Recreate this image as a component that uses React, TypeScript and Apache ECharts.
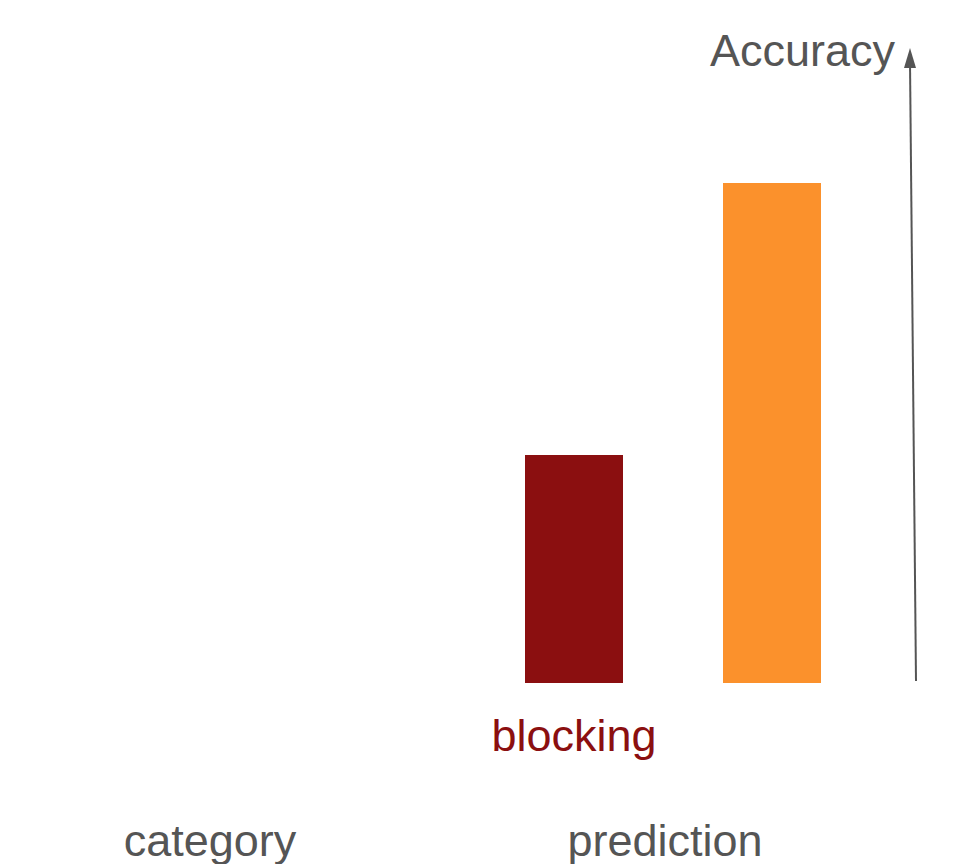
import { useEffect, useRef } from "react";
import * as echarts from "echarts";

const categories = ["blocking", "control"];
const accuracy = [36, 79];
const barColors = ["#8B0F10", "#FB912C"];
const labelColors = ["#8B0F10", "#E8903A"];
const groupLabels = ["category", "prediction"];

const App = () => {
  const chartRef = useRef<HTMLDivElement>(null);

  useEffect(() => {
    if (!chartRef.current) return;
    const chart = echarts.init(chartRef.current, undefined, { renderer: "svg" });
    const font = "'Liberation Sans', Arial, sans-serif";

    chart.setOption({
      animation: false,
      backgroundColor: "#ffffff",
      grid: { left: 475, right: 85, top: 50, bottom: 181 },
      xAxis: {
        type: "category",
        data: categories,
        axisLine: { show: false },
        axisTick: { show: false },
        axisLabel: {
          margin: 30,
          fontSize: 45,
          fontFamily: font,
          color: (_v: string, i: number) => labelColors[i],
        },
      },
      yAxis: { type: "value", min: 0, max: 100, show: false },
      series: [
        {
          type: "bar",
          barWidth: 98,
          data: accuracy.map((v, i) => ({ value: v, itemStyle: { color: barColors[i] } })),
        },
      ],
      graphic: [
        { type: "line", shape: { x1: 916, y1: 681, x2: 910, y2: 62 }, style: { stroke: "#555", lineWidth: 2 } },
        { type: "polygon", shape: { points: [[910, 48], [904, 68], [916, 68]] }, style: { fill: "#555" } },
        {
          type: "text", x: 895, y: 50,
          style: { text: "Accuracy", fontSize: 45, fontFamily: font, fill: "#555", align: "right", verticalAlign: "middle" },
        },
        {
          type: "text", x: 210, y: 840,
          style: { text: groupLabels[0], fontSize: 45, fontFamily: font, fill: "#555", align: "center", verticalAlign: "middle" },
        },
        {
          type: "text", x: 665, y: 840,
          style: { text: groupLabels[1], fontSize: 45, fontFamily: font, fill: "#555", align: "center", verticalAlign: "middle" },
        },
      ],
    });

    return () => chart.dispose();
  }, []);

  return (
    <div
      ref={chartRef}
      style={{ position: "fixed", left: 0, top: 0, width: "956px", height: "864px" }}
    />
  );
};

export default App;
